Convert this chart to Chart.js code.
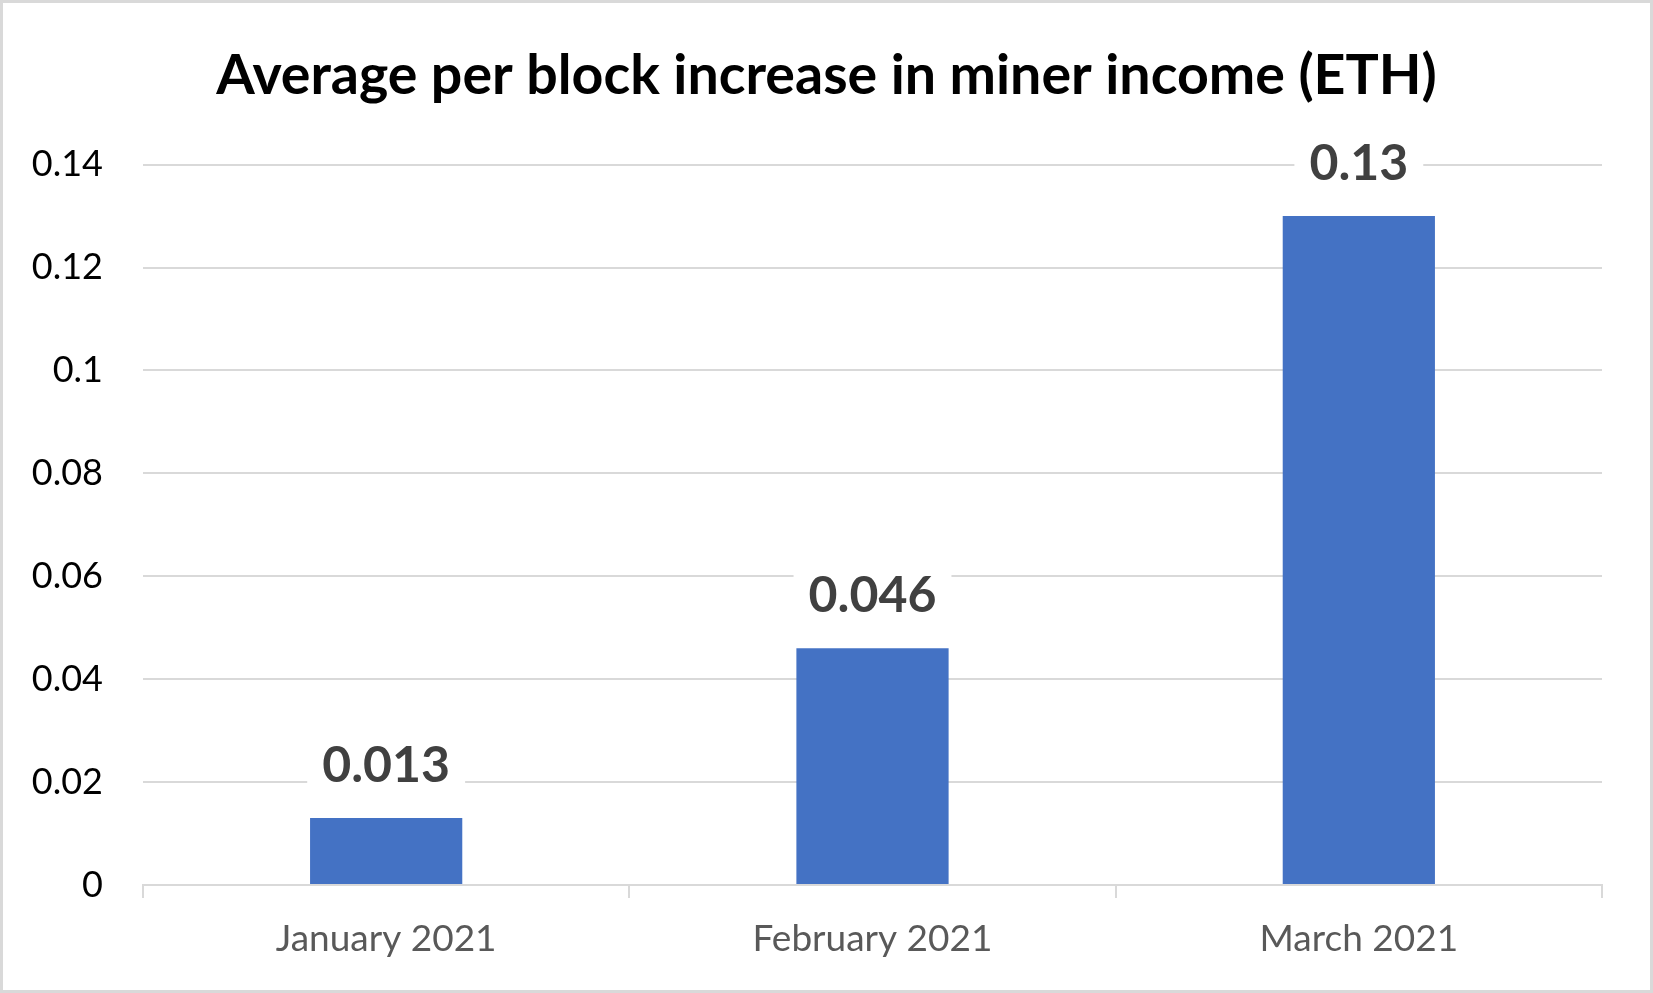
<!DOCTYPE html>
<html>
<head>
<meta charset="utf-8">
<script src="https://cdn.jsdelivr.net/npm/chart.js@4.4.1/dist/chart.umd.min.js"></script>
<style>
  html, body { margin: 0; padding: 0; background: #fff; }
  #wrap { position: relative; width: 1653px; height: 993px; }
  canvas { display: block; }
</style>
</head>
<body>
<div id="wrap"><canvas id="c" width="1653" height="993"></canvas></div>
<script>
const titleText = 'Average per block increase in miner income (ETH)';
const categories = ['January 2021', 'February 2021', 'March 2021'];
const values = [0.013, 0.046, 0.13];
const valueLabels = ['0.013', '0.046', '0.13'];
const yMax = 0.14;
const yStep = 0.02;

const FONT = 'Lato, "Open Sans", "Noto Sans", sans-serif';

const framePlugin = {
  id: 'frame',
  beforeDraw(chart) {
    const ctx = chart.ctx;
    ctx.save();
    ctx.fillStyle = '#ffffff';
    ctx.fillRect(0, 0, chart.width, chart.height);
    ctx.restore();
  },
  afterDraw(chart) {
    const ctx = chart.ctx;
    ctx.save();
    ctx.strokeStyle = '#d9d9d9';
    ctx.lineWidth = 3;
    ctx.strokeRect(1.5, 1.5, chart.width - 3, chart.height - 3);
    ctx.restore();
  }
};

const labelPlugin = {
  id: 'barLabels',
  afterDatasetsDraw(chart) {
    const ctx = chart.ctx;
    const meta = chart.getDatasetMeta(0);
    ctx.save();
    ctx.font = 'bold 50px ' + FONT;
    ctx.textAlign = 'center';
    ctx.textBaseline = 'alphabetic';
    meta.data.forEach((bar, i) => {
      const txt = valueLabels[i];
      const w = ctx.measureText(txt).width;
      const base = bar.y - 36;
      ctx.fillStyle = '#ffffff';
      ctx.fillRect(bar.x - w / 2 - 15, base - 42, w + 30, 52);
      ctx.fillStyle = '#404040';
      ctx.fillText(txt, bar.x, base);
    });
    ctx.restore();
  }
};

new Chart(document.getElementById('c'), {
  type: 'bar',
  data: {
    labels: categories,
    datasets: [{
      data: values,
      backgroundColor: '#4472C4',
      borderWidth: 0,
      categoryPercentage: 1.0,
      barPercentage: 0.313
    }]
  },
  options: {
    responsive: false,
    devicePixelRatio: 1,
    animation: false,
    layout: { padding: { left: 0, right: 0, top: 0, bottom: 0 } },
    plugins: {
      legend: { display: false },
      tooltip: { enabled: false },
      title: {
        display: true,
        text: titleText,
        color: '#000000',
        font: { family: FONT, size: 55.5, weight: 'bold', lineHeight: 1.2 },
        padding: { top: 43, bottom: 55 }
      }
    },
    scales: {
      x: {
        grid: {
          display: true,
          drawOnChartArea: false,
          drawTicks: true,
          tickLength: 13,
          color: '#d9d9d9',
          lineWidth: 2,
          offset: true
        },
        border: { display: true, color: '#d9d9d9', width: 2 },
        ticks: {
          color: '#595959',
          font: { family: FONT, size: 37 },
          padding: 19,
          maxRotation: 0
        },
        afterFit(scale) { scale.height = 108; }
      },
      y: {
        min: 0,
        max: yMax,
        ticks: {
          stepSize: yStep,
          color: '#000000',
          font: { family: FONT, size: 36 },
          padding: 40,
          callback: (v) => String(Math.round(v * 100) / 100)
        },
        grid: { color: '#d9d9d9', lineWidth: 2, drawTicks: false },
        border: { display: false },
        afterFit(scale) { scale.width = 143; }
      },
      yRight: {
        position: 'right',
        display: true,
        min: 0,
        max: yMax,
        ticks: { display: false },
        grid: { display: false, drawTicks: false },
        border: { display: false },
        afterFit(scale) { scale.width = 51; }
      }
    }
  },
  plugins: [framePlugin, labelPlugin]
});
</script>
</body>
</html>
